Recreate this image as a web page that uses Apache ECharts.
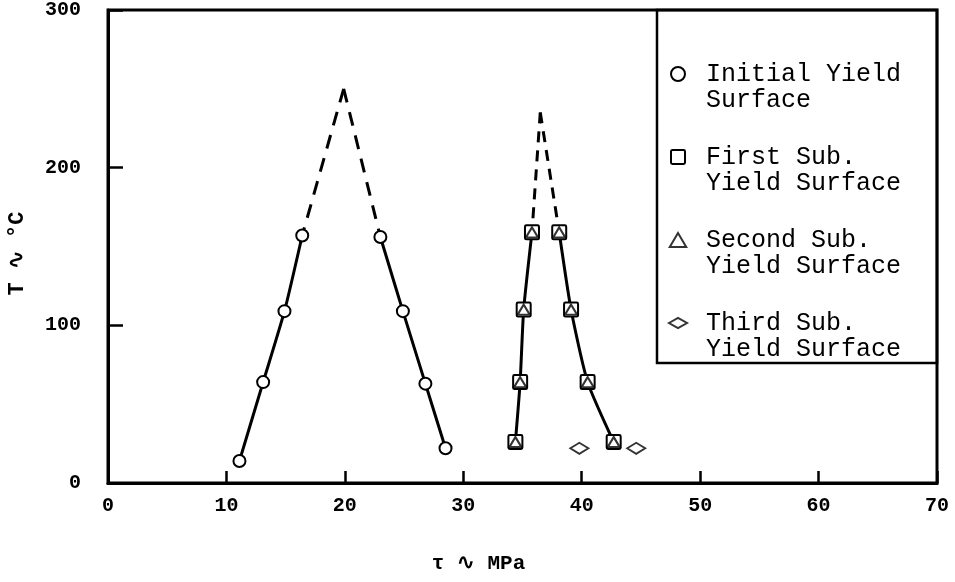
<!DOCTYPE html>
<html><head><meta charset="utf-8">
<script src="https://cdn.jsdelivr.net/npm/echarts@6/dist/echarts.min.js"></script>
<style>html,body{margin:0;padding:0;background:#fff}#c{width:955px;height:582px}</style>
</head><body><div id="c"></div>
<script>
// ---- data ----
const xTickValues = [0, 10, 20, 30, 40, 50, 60, 70];
const yTickValues = [0, 100, 200, 300];
const xAxisTitle = 'τ ∿ MPa';
const yAxisTitle = 'T ∿ °C';
const seriesNames = ['Initial Yield Surface', 'First Sub. Yield Surface', 'Second Sub. Yield Surface', 'Third Sub. Yield Surface'];
const legendLabels = ['Initial Yield\nSurface', 'First Sub.\nYield Surface', 'Second Sub.\nYield Surface', 'Third Sub.\nYield Surface'];
// Initial yield surface (circles)
const initialLeft = [[11.1, 14], [13.1, 64], [14.9, 109], [16.4, 157]];
const initialRight = [[23.0, 156], [24.9, 109], [26.8, 63], [28.5, 22]];
const initialPeak = [19.9, 250];
// First subsequent yield surface (squares)
const firstLeft = [[34.4, 26], [34.8, 64], [35.1, 110], [35.8, 159]];
const firstRight = [[38.1, 159], [39.1, 110], [40.5, 64], [42.7, 26]];
const subPeak = [36.5, 235];
// Second subsequent yield surface (triangles)
const secondPoints = [[34.4, 26], [34.8, 64], [35.1, 110], [35.8, 159], [38.1, 159], [39.1, 110], [40.5, 64], [42.7, 26]];
// Third subsequent yield surface (diamonds)
const thirdPoints = [[39.8, 22], [44.6, 22]];

// ---- chart ----
const chart = echarts.init(document.getElementById('c'), null, {renderer: 'canvas'});
const MONO = "'Liberation Mono', 'DejaVu Sans Mono', monospace";
const hollow = {color: '#fff', borderColor: '#000', borderWidth: 2};
const solidLine = {color: '#000', width: 3};
const diamondPath = 'path://M0,5L9,0L18,5L9,10Z';
const squarePath = 'path://M1,0L9,0Q10,0 10,1L10,9Q10,10 9,10L1,10Q0,10 0,9L0,1Q0,0 1,0Z';
const trianglePath = 'path://M5,0L10,8.5L0,8.5Z';

function dashed(name, data, dash) {
  return {name: name, type: 'line', data: data, symbol: 'none', silent: true, z: 1,
    lineStyle: {color: '#000', width: 3, type: dash, cap: 'butt'}};
}
function solid(name, data, symbol, size) {
  return {name: name, type: 'line', data: data, symbol: symbol, symbolSize: size, showSymbol: true,
    smooth: 0.2, itemStyle: hollow, lineStyle: solidLine, z: 2};
}

const option = {
  animation: false,
  backgroundColor: '#fff',
  grid: {left: 108, right: 18, top: 10, bottom: 99, outerBoundsMode: 'none', containLabel: false,
    show: true, borderColor: '#000', borderWidth: 3, backgroundColor: 'transparent'},
  xAxis: {
    type: 'value', min: xTickValues[0], max: xTickValues[xTickValues.length - 1], interval: 10,
    name: xAxisTitle, nameLocation: 'middle', nameGap: 70,
    nameTextStyle: {fontFamily: MONO, fontSize: 21, fontWeight: 'bold', color: '#000', padding: [0, 88, 0, 0]},
    axisLine: {show: true, lineStyle: {color: '#000', width: 3}},
    axisTick: {show: true, inside: true, length: 12, lineStyle: {color: '#000', width: 2.5}},
    axisLabel: {margin: 13, fontFamily: MONO, fontSize: 20, fontWeight: 'bold', color: '#000'},
    splitLine: {show: false}
  },
  yAxis: {
    type: 'value', min: yTickValues[0], max: yTickValues[yTickValues.length - 1], interval: 100,
    name: yAxisTitle, nameLocation: 'middle', nameGap: 80, nameRotate: 90,
    nameTextStyle: {fontFamily: MONO, fontSize: 22, fontWeight: 'bold', color: '#000', padding: [0, 14, 0, 0]},
    axisLine: {show: true, lineStyle: {color: '#000', width: 3}},
    axisTick: {show: true, inside: true, length: 15, lineStyle: {color: '#000', width: 2.5}},
    axisLabel: {margin: 27, fontFamily: MONO, fontSize: 20, fontWeight: 'bold', color: '#000'},
    splitLine: {show: false}
  },
  legend: {
    orient: 'vertical', left: 668, top: 35, padding: 0, itemGap: 5,
    itemWidth: 18, itemHeight: 14, selectedMode: false, symbolKeepAspect: true,
    formatter: function (name) { return '\n' + legendLabels[seriesNames.indexOf(name)]; },
    textStyle: {fontFamily: MONO, fontSize: 25, color: '#000', lineHeight: 26, padding: [0, 0, 0, 14]},
    data: [
      {name: seriesNames[0], icon: 'circle', itemStyle: hollow},
      {name: seriesNames[1], icon: squarePath, itemStyle: hollow},
      {name: seriesNames[2], icon: trianglePath, itemStyle: hollow},
      {name: seriesNames[3], icon: diamondPath, itemStyle: hollow}
    ]
  },
  graphic: [{
    type: 'rect', z: 100, silent: true,
    shape: {x: 657, y: 10, width: 280, height: 353},
    style: {fill: 'none', stroke: '#000', lineWidth: 2.5}
  }],
  series: [
    dashed('Initial extrapolation L', [initialPeak, initialLeft[initialLeft.length - 1]], [14, 10]),
    dashed('Initial extrapolation R', [initialPeak, initialRight[0]], [14, 10]),
    solid(seriesNames[0], initialLeft, 'circle', 12),
    solid(seriesNames[0], initialRight, 'circle', 12),
    dashed('Sub extrapolation L', [subPeak, firstLeft[firstLeft.length - 1]], [11, 8]),
    dashed('Sub extrapolation R', [subPeak, firstRight[0]], [11, 8]),
    solid(seriesNames[1], firstLeft, squarePath, 14),
    solid(seriesNames[1], firstRight, squarePath, 14),
    {name: seriesNames[2], type: 'scatter', data: secondPoints, symbol: trianglePath, symbolSize: [12, 10], itemStyle: hollow, z: 3},
    {name: seriesNames[3], type: 'scatter', data: thirdPoints, symbol: diamondPath, symbolSize: [18, 11], itemStyle: hollow, z: 3}
  ]
};
chart.setOption(option);
</script>
</body></html>
